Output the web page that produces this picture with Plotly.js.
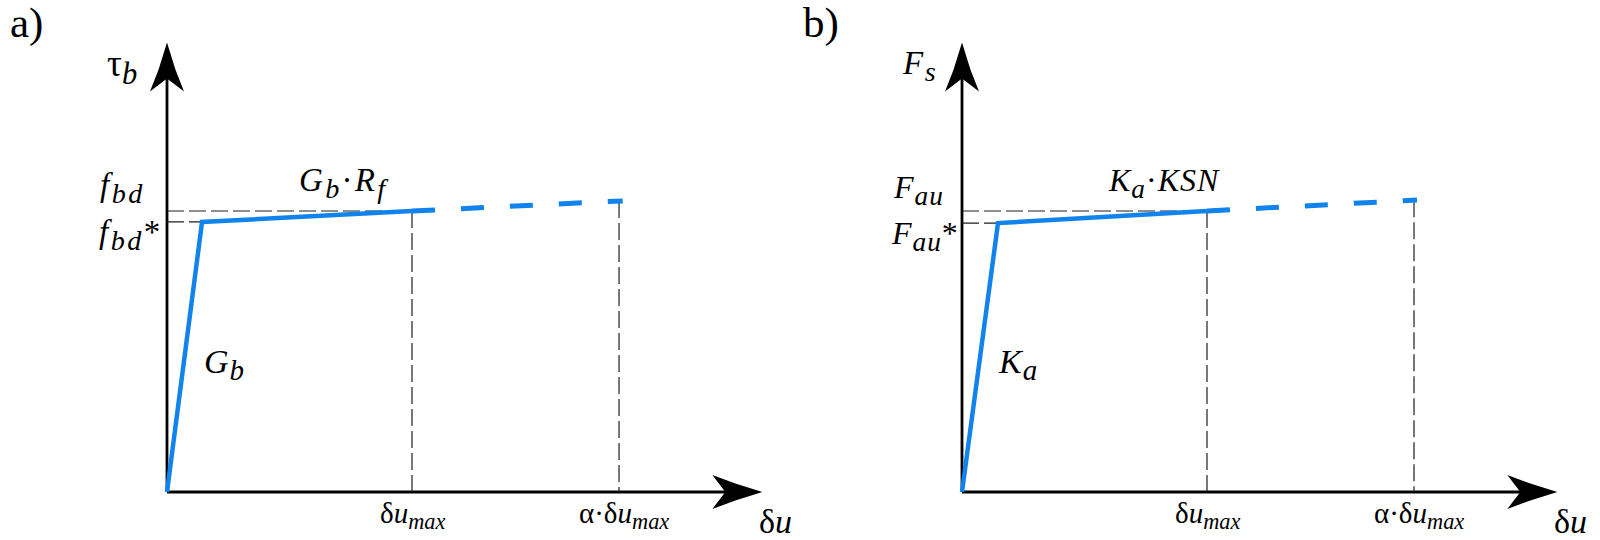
<!DOCTYPE html>
<html><head><meta charset="utf-8">
<script src="https://cdn.plot.ly/plotly-3.0.1.min.js"></script>
<style>html,body{margin:0;padding:0;background:#fff}#chart{width:1600px;height:540px}</style>
</head><body><div id="chart"></div>
<script>
// ---------------- data ----------------
const panelLabels = ['a)', 'b)'];
// panel a: bond stress - slip
const xSolidA = [0, 0.143, 1];
const ySolidA = [0, 0.961, 1];
const xDashA = [1, 1.86];
const yDashA = [1, 1.036];
// panel b: spring force - slip
const xSolidB = [0, 0.147, 1];
const ySolidB = [0, 0.957, 1];
const xDashB = [1, 1.857];
const yDashB = [1, 1.039];
const alphaFactor = [1.845, 1.845];

// ---------------- text helpers ----------------
const S = (t, pct) => '<sub><span style="font-size:' + (pct || 122) + '%"><i>' + t + '</i></span></sub>';
const LS = (t, px) => '<span style="letter-spacing:' + px + 'px">' + t + '</span>';

const xTickText = ['δ<i>u</i>' + S('max', 110), 'α·δ<i>u</i>' + S('max', 110)];
const xAxisTitle = 'δ<i>u</i>';
const yAxisTitles = ['τ' + S('b', 118), '<i>F</i>' + S('s')];
const yTickTextA = ['<i>f</i>' + S('bd'), '<i>f</i>' + S('bd') + '*'];
const yTickTextB = ['<i>F</i>' + S('au'), '<i>F</i>' + S('au') + '*'];
const slopeLabelsA = ['<i>G</i>' + S('b'), '<i>G</i>' + S('b') + '·<i>R</i>' + S('f')];
const slopeLabelsB = ['<i>K</i>' + S('a'), '<i>K</i>' + S('a') + '·<i>KSN</i>'];

// ---------------- layout constants ----------------
const W = 1600, H = 540;
const XMAX = 2.43, YMAX = 1.6;      // arrow tips (axis ends)
const XPAD = 0.15, YPAD = 0.12;     // room so arrowheads are not clipped
const PXX = 245, PXY = 281;          // pixels per unit
const ORIGIN_Y = 492;
const ORIGIN_X = [167, 962];
const FONT = 'Liberation Serif, Times New Roman, serif';
const BLUE = '#1083ec';
const GREY = '#1e1e1e';

function interp(xs, ys, x) {
  const t = (x - xs[0]) / (xs[1] - xs[0]);
  return ys[0] + t * (ys[1] - ys[0]);
}

function panelTraces(xs, ys, xd, yd, alpha, xa, ya) {
  const yAlpha = Math.min(interp(xd, yd, alpha), yd[1]);
  const guideX = [0, xs[2], null, 0, xs[1], null, xs[2], xs[2], null, alpha, alpha];
  const guideY = [ys[2], ys[2], null, ys[1], ys[1], null, ys[2], 0, null, yAlpha, 0];
  return [
    {x: guideX, y: guideY, xaxis: xa, yaxis: ya, mode: 'lines', hoverinfo: 'skip',
     line: {color: GREY, width: 1.2, dash: '17px,5px'}},
    {x: xs, y: ys, xaxis: xa, yaxis: ya, mode: 'lines', hoverinfo: 'skip',
     line: {color: BLUE, width: 4.5}},
    {x: xd, y: yd, xaxis: xa, yaxis: ya, mode: 'lines', hoverinfo: 'skip',
     line: {color: BLUE, width: 5, dash: '23px,26px'}}
  ];
}

const data = [
  ...panelTraces(xSolidA, ySolidA, xDashA, yDashA, alphaFactor[0], 'x', 'y'),
  ...panelTraces(xSolidB, ySolidB, xDashB, yDashB, alphaFactor[1], 'x2', 'y2')
];

function axisShapes(xr, yr) {
  const lineEndX = XMAX - 30 / PXX;
  const lineEndY = YMAX - 30 / PXY;
  return [
    {type: 'line', xref: xr, yref: yr, x0: 0, x1: lineEndX, y0: 0, y1: 0, layer: 'below',
     line: {color: '#000', width: 2.8}},
    {type: 'line', xref: xr, yref: yr, x0: 0, x1: 0, y0: 0, y1: lineEndY, layer: 'below',
     line: {color: '#000', width: 2.8}},
    {type: 'path', xref: xr, yref: yr, xsizemode: 'pixel', ysizemode: 'pixel',
     xanchor: XMAX, yanchor: 0, fillcolor: '#000', line: {width: 0},
     path: 'M0,0L-27,8.4L-50,17L-37,0L-50,-17L-27,-8.4Z'},
    {type: 'path', xref: xr, yref: yr, xsizemode: 'pixel', ysizemode: 'pixel',
     xanchor: 0, yanchor: YMAX, fillcolor: '#000', line: {width: 0},
     path: 'M0,0L8.4,-27L17,-49L0,-36L-17,-49L-8.4,-27Z'}
  ];
}

function ann(text, xref, x, topPx, xanchor, size, ls, xshift) {
  return {text: ls ? LS(text, ls) : text, xref: xref, x: x, yref: 'paper', y: (H - topPx) / H,
          xanchor: xanchor, yanchor: 'top', showarrow: false, borderpad: 0, xshift: xshift || 0,
          font: {family: FONT, size: size, color: '#000'}};
}
const px = v => v / W;

const annotations = [
  ann(panelLabels[0], 'paper', px(9), -2, 'left', 43),
  ann(panelLabels[1], 'paper', px(802), -2, 'left', 43),
  // panel a
  ann(yAxisTitles[0], 'paper', px(138), 42, 'right', 37),
  ann(yTickTextA[0], 'paper', px(146), 166, 'right', 33, 2.5),
  ann(yTickTextA[1], 'paper', px(164), 213, 'right', 33, 2.5),
  ann(slopeLabelsA[1], 'paper', px(344), 161, 'center', 33, 2.3),
  ann(slopeLabelsA[0], 'paper', px(203), 342, 'left', 34, 1),
  ann(xTickText[0], 'x', xSolidA[2], 496, 'center', 29),
  ann(xTickText[1], 'x', alphaFactor[0], 496, 'center', 29, 0, 5),
  ann(xAxisTitle, 'paper', px(758), 502, 'left', 34),
  // panel b
  ann(yAxisTitles[1], 'paper', px(938), 44, 'right', 33, 1.5),
  ann(yTickTextB[0], 'paper', px(945), 168, 'right', 32, 1),
  ann(yTickTextB[1], 'paper', px(960), 214, 'right', 32, 1),
  ann(slopeLabelsB[1], 'paper', px(1164), 161, 'center', 32, 1),
  ann(slopeLabelsB[0], 'paper', px(997), 342, 'left', 34, 1),
  ann(xTickText[0], 'x2', xSolidB[2], 496, 'center', 29),
  ann(xTickText[1], 'x2', alphaFactor[1], 496, 'center', 29, 0, 5),
  ann(xAxisTitle, 'paper', px(1553), 502, 'left', 34)
];

const yDomain = [(H - ORIGIN_Y - YPAD * PXY) / H, (H - ORIGIN_Y + (YMAX + YPAD) * PXY) / H];
const xDomain = o => [px(o - XPAD * PXX), px(o + (XMAX + XPAD) * PXX)];
const xBase = {range: [-XPAD, XMAX + XPAD], visible: false, fixedrange: true};
const yBase = {range: [-YPAD, YMAX + YPAD], visible: false, fixedrange: true, domain: yDomain};
const layout = {
  width: W, height: H,
  margin: {l: 0, r: 0, t: 0, b: 0},
  paper_bgcolor: '#fff', plot_bgcolor: 'rgba(0,0,0,0)',
  showlegend: false, hovermode: false,
  xaxis: Object.assign({}, xBase, {domain: xDomain(ORIGIN_X[0]), anchor: 'y'}),
  yaxis: Object.assign({}, yBase, {anchor: 'x'}),
  xaxis2: Object.assign({}, xBase, {domain: xDomain(ORIGIN_X[1]), anchor: 'y2'}),
  yaxis2: Object.assign({}, yBase, {anchor: 'x2'}),
  shapes: [...axisShapes('x', 'y'), ...axisShapes('x2', 'y2')],
  annotations: annotations
};

Plotly.newPlot('chart', data, layout, {displayModeBar: false, staticPlot: true});
</script>
</body></html>
